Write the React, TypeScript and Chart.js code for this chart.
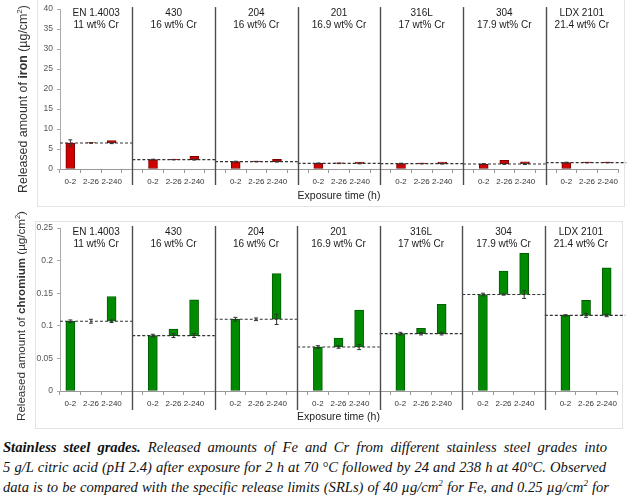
import React, { useEffect, useRef } from 'react';
import { Chart, registerables } from 'chart.js';

Chart.register(...registerables);

// ---------- data ----------
const grades = ['EN 1.4003', '430', '204', '201', '316L', '304', 'LDX 2101'];
const crContents = ['11 wt% Cr', '16 wt% Cr', '16 wt% Cr', '16.9 wt% Cr', '17 wt% Cr', '17.9 wt% Cr', '21.4 wt% Cr'];
const periods = ['0-2', '2-26', '2-240'];

const feTicks = [0, 5, 10, 15, 20, 25, 30, 35, 40];
const crTicks = [0, 0.05, 0.1, 0.15, 0.2, 0.25];

// Fe: released after 0-2 h, and cumulative level reached after 2-26 h and 2-240 h (µg/cm²)
const fe02 = [6.5, 2.35, 1.85, 1.4, 1.35, 1.25, 1.6];
const fe226 = [6.6, 2.45, 1.95, 1.55, 1.5, 2.15, 1.7];
const fe2240 = [7.1, 3.2, 2.45, 1.75, 1.75, 1.8, 1.7];
const feErr02 = [0.8, 0.1, 0.1, 0.1, 0.1, 0.1, 0.1];
const feErr226 = [0.05, 0.05, 0.05, 0.05, 0.05, 0.05, 0.05];
const feErr2240 = [0.15, 0.1, 0.1, 0.1, 0.1, 0.1, 0.05];

// Cr (µg/cm²)
const cr02 = [0.107, 0.085, 0.11, 0.0675, 0.088, 0.148, 0.116];
const cr226 = [0.107, 0.095, 0.11, 0.081, 0.096, 0.184, 0.139];
const cr2240 = [0.145, 0.14, 0.18, 0.124, 0.133, 0.211, 0.189];
const crErr02 = [0.002, 0.002, 0.003, 0.002, 0.002, 0.002, 0.001];
const crErr226 = [0.003, 0.003, 0.002, 0.002, 0.002, 0.001, 0.003];
const crErr2240 = [0.002, 0.003, 0.008, 0.004, 0.002, 0.006, 0.002];

const SANS = '"Liberation Sans", Arial, Helvetica, sans-serif';

function buildLabels(): string[] {
  const out: string[] = [];
  grades.forEach((_, g) => {
    periods.forEach((p) => out.push(p));
    if (g < grades.length - 1) out.push('');
  });
  return out;
}

function buildBars(a: number[], b: number[], c: number[]) {
  const out: ([number, number] | null)[] = [];
  grades.forEach((_, g) => {
    out.push([0, a[g]]);
    out.push([a[g], b[g]]);
    out.push([a[g], c[g]]);
    if (g < grades.length - 1) out.push(null);
  });
  return out;
}

const decorPlugin = {
  id: 'panelDecor',
  afterDatasetsDraw(chart: any, _args: any, opts: any) {
    const { ctx, chartArea } = chart;
    const xs = chart.scales.x;
    const ys = chart.scales.y;
    const n = grades.length;
    const base: number[] = opts.base;
    ctx.save();
    // dashed level of the 0-2 h release in each group
    ctx.setLineDash([3, 2]);
    ctx.strokeStyle = '#333';
    ctx.lineWidth = 1.1;
    for (let g = 0; g < n; g++) {
      const left = g === 0 ? chartArea.left : xs.getPixelForValue(4 * g - 1);
      const right = g === n - 1 ? xs.getPixelForValue(4 * g + 2.9) : xs.getPixelForValue(4 * g + 3);
      const py = ys.getPixelForValue(base[g]);
      ctx.beginPath();
      ctx.moveTo(left, py);
      ctx.lineTo(right, py);
      ctx.stroke();
    }
    ctx.setLineDash([]);
    // group separators
    ctx.strokeStyle = '#4d4d4d';
    ctx.lineWidth = 1.4;
    for (let g = 0; g < n - 1; g++) {
      const px = Math.round(xs.getPixelForValue(4 * g + 3)) + 0.5;
      ctx.beginPath();
      ctx.moveTo(px, chartArea.top - 2);
      ctx.lineTo(px, chartArea.bottom + opts.sepExtend);
      ctx.stroke();
    }
    // error bars at the 0-2 h level
    ctx.strokeStyle = '#333';
    ctx.lineWidth = 1;
    const errs: number[][] = opts.errs;
    for (let g = 0; g < n; g++) {
      for (let k = 0; k < 3; k++) {
        const e = errs[k][g];
        const px = xs.getPixelForValue(4 * g + k);
        const y1 = ys.getPixelForValue(base[g] + e);
        const y2 = ys.getPixelForValue(base[g] - e);
        ctx.beginPath();
        ctx.moveTo(px, y1);
        ctx.lineTo(px, y2);
        ctx.moveTo(px - 2, y1);
        ctx.lineTo(px + 2, y1);
        ctx.moveTo(px - 2, y2);
        ctx.lineTo(px + 2, y2);
        ctx.stroke();
      }
    }
    // group titles
    ctx.fillStyle = '#1a1a1a';
    ctx.font = `10px ${SANS}`;
    ctx.textAlign = 'center';
    ctx.textBaseline = 'middle';
    for (let g = 0; g < n; g++) {
      const left = g === 0 ? chartArea.left : xs.getPixelForValue(4 * g - 1);
      const right = g === n - 1 ? chartArea.right : xs.getPixelForValue(4 * g + 3);
      const cx = (left + right) / 2;
      ctx.fillText(grades[g], cx, chartArea.top + 4);
      ctx.fillText(crContents[g], cx, chartArea.top + 16);
    }
    // rotated y-axis title with bold element name
    const parts: { t: string; bold?: boolean; sup?: boolean }[] = [
      { t: 'Released amount of ' },
      { t: opts.element, bold: true },
      { t: ' (µg/cm' },
      { t: '2', sup: true },
      { t: ')' },
    ];
    const fs = opts.titleSize;
    const fontOf = (p: any) =>
      p.bold ? `bold ${fs}px ${SANS}` : p.sup ? `${fs * 0.65}px ${SANS}` : `${fs}px ${SANS}`;
    let total = 0;
    parts.forEach((p) => {
      ctx.font = fontOf(p);
      total += ctx.measureText(p.t).width;
    });
    ctx.translate(opts.titleX, opts.titleY);
    ctx.rotate(-Math.PI / 2);
    ctx.textAlign = 'left';
    ctx.textBaseline = 'middle';
    ctx.fillStyle = '#333';
    let cur = -total / 2;
    parts.forEach((p) => {
      ctx.font = fontOf(p);
      ctx.fillText(p.t, cur, p.sup ? -fs * 0.35 : 0);
      cur += ctx.measureText(p.t).width;
    });
    ctx.restore();
  },
};

function makeConfig(opts: {
  data: ([number, number] | null)[];
  color: string;
  border: string;
  ticks: number[];
  xHeight: number;
  titleBottom: number;
  padTop: number;
  padRight: number;
  decor: any;
}): any {
  const { ticks } = opts;
  return {
    type: 'bar',
    data: {
      labels: buildLabels(),
      datasets: [
        {
          data: opts.data,
          backgroundColor: opts.color,
          borderColor: opts.border,
          borderWidth: 1,
          borderSkipped: false,
          barThickness: 9,
        },
      ],
    },
    options: {
      responsive: false,
      maintainAspectRatio: false,
      animation: false,
      layout: { padding: { top: opts.padTop, right: opts.padRight, left: 0, bottom: 0 } },
      plugins: {
        legend: { display: false },
        tooltip: { enabled: false },
        panelDecor: opts.decor,
      },
      scales: {
        x: {
          type: 'category',
          offset: true,
          grid: { offset: true, drawOnChartArea: false, drawTicks: true, tickLength: 4, color: '#999' },
          border: { display: true, color: '#999', width: 1 },
          ticks: {
            autoSkip: false,
            maxRotation: 0,
            minRotation: 0,
            padding: 4,
            color: '#333',
            font: { size: 8, family: SANS },
          },
          title: {
            display: true,
            text: 'Exposure time (h)',
            color: '#222',
            font: { size: 10.5, family: SANS },
            padding: { top: 0, bottom: opts.titleBottom },
          },
          afterFit: (s: any) => {
            s.height = opts.xHeight;
          },
        },
        y: {
          min: ticks[0],
          max: ticks[ticks.length - 1],
          afterBuildTicks: (s: any) => {
            s.ticks = ticks.map((v) => ({ value: v }));
          },
          grid: { drawOnChartArea: false, drawTicks: true, tickLength: 3, color: '#aaa' },
          border: { display: true, color: '#aaa', width: 1 },
          ticks: {
            padding: 4,
            color: '#555',
            font: { size: 8.5, family: SANS },
            callback: (v: number) => String(+Number(v).toFixed(2)),
          },
          afterFit: (s: any) => {
            s.width = 60;
          },
        },
      },
    },
    plugins: [decorPlugin],
  };
}

function Panel(props: { top: number; height: number; config: any }) {
  const ref = useRef<HTMLCanvasElement | null>(null);
  useEffect(() => {
    if (!ref.current) return;
    const chart = new Chart(ref.current, props.config);
    return () => chart.destroy();
  }, []);
  return (
    <canvas
      ref={ref}
      width={640}
      height={props.height}
      style={{ position: 'absolute', left: 0, top: props.top, width: 640, height: props.height }}
    />
  );
}

export default function App() {
  const feConfig = makeConfig({
    data: buildBars(fe02, fe226, fe2240),
    color: '#d00000',
    border: '#7a0000',
    ticks: feTicks,
    xHeight: 41,
    titleBottom: 7.5,
    padTop: 9,
    padRight: 22,
    decor: {
      base: fe02,
      errs: [feErr02, feErr226, feErr2240],
      sepExtend: 16,
      element: 'iron',
      titleSize: 12.4,
      titleX: 24,
      titleY: 99,
    },
  });
  const crConfig = makeConfig({
    data: buildBars(cr02, cr226, cr2240),
    color: '#008a00',
    border: '#005c00',
    ticks: crTicks,
    xHeight: 39,
    titleBottom: 6.5,
    padTop: 18,
    padRight: 23,
    decor: {
      base: cr02,
      errs: [crErr02, crErr226, crErr2240],
      sepExtend: 19,
      element: 'chromium',
      titleSize: 11.6,
      titleX: 22,
      titleY: 106,
    },
  });

  const line = (w: number): React.CSSProperties => ({
    whiteSpace: 'nowrap',
    height: 20,
    width: w,
    textAlign: 'justify',
    textAlignLast: 'justify',
  });

  return (
    <div style={{ position: 'absolute', left: 0, top: 0, width: 640, height: 497, overflow: 'hidden', background: '#fff' }}>
      <div style={{ position: 'absolute', left: 37, top: -2, width: 588, height: 209, border: '1px solid #e3e3e3', boxSizing: 'border-box' }} />
      <div style={{ position: 'absolute', left: 35, top: 221, width: 588, height: 208, border: '1px solid #e3e3e3', boxSizing: 'border-box' }} />
      <Panel top={0} height={210} config={feConfig} />
      <Panel top={210} height={220} config={crConfig} />
      <div
        style={{
          position: 'absolute',
          left: 3,
          top: 437,
          fontFamily: '"Liberation Serif", "DejaVu Serif", serif',
          fontStyle: 'italic',
          fontSize: 14.6,
          lineHeight: '20px',
          color: '#111',
        }}
      >
        <div style={line(604)}>
          <b>Stainless steel grades.</b> Released amounts of Fe and Cr from different stainless steel grades into
        </div>
        <div style={line(603)}>
          5 g/L citric acid (pH 2.4) after exposure for 2 h at 70 °C followed by 24 and 238 h at 40°C. Observed
        </div>
        <div style={line(606)}>
          data is to be compared with the specific release limits (SRLs) of 40 µg/cm<sup style={{ fontSize: 9, lineHeight: 0 }}>2</sup> for Fe, and 0.25 µg/cm<sup style={{ fontSize: 9, lineHeight: 0 }}>2</sup> for
        </div>
      </div>
    </div>
  );
}
